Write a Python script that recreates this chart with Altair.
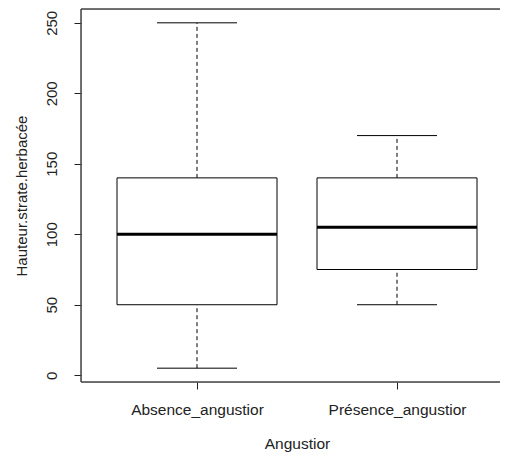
import altair as alt
import pandas as pd

groups = ["Absence_angustior", "Présence_angustior"]
positions = [1, 2]
lower_whisker = [5, 50]
q1 = [50, 75]
median = [100, 105]
q3 = [140, 140]
upper_whisker = [250, 170]

df = pd.DataFrame({
    "group": groups,
    "pos": positions,
    "lo": lower_whisker,
    "q1": q1,
    "med": median,
    "q3": q3,
    "hi": upper_whisker,
})

W = 419
H = 373
FONT = "Liberation Sans"

label_expr = " : ".join(
    [f"datum.value == {p} ? '{g}'" for p, g in zip(positions[:-1], groups[:-1])]
) + f" : '{groups[-1]}'"

xscale = alt.Scale(domain=[0.42, 0.42 + W / 200], nice=False, zero=False)
yscale = alt.Scale(domain=[-4.8, 259.8], nice=False, zero=False)

xaxis = alt.Axis(
    values=positions, labelExpr=label_expr, title="Angustior", domain=False,
    grid=False, tickSize=7, tickColor="#222", labelPadding=13,
    labelFont=FONT, labelFontSize=15.5, labelColor="#222",
    titleFont=FONT, titleFontSize=15.5, titleFontWeight="normal", titleColor="#222",
    titleY=61, titleBaseline="middle", titleX=216,
)
yaxis = alt.Axis(
    values=[0, 50, 100, 150, 200, 250], title="Hauteur.strate.herbacée", domain=False,
    grid=False, tickSize=7, tickColor="#222", labelAngle=270, labelAlign="center",
    labelBaseline="bottom", labelPadding=15,
    labelFont=FONT, labelFontSize=15, labelColor="#222",
    titleFont=FONT, titleFontSize=15, titleFontWeight="normal", titleColor="#222",
    titleAngle=270, titleX=-60, titleY=H / 2, titleBaseline="middle", titleAlign="center",
)

base = alt.Chart(df).transform_calculate(
    left="datum.pos - 0.4", right="datum.pos + 0.4",
    cl="datum.pos - 0.2", cr="datum.pos + 0.2",
)

box = base.mark_rect(fill="white", stroke="black", strokeWidth=1).encode(
    x=alt.X("left:Q", scale=xscale, axis=xaxis),
    x2="right:Q",
    y=alt.Y("q1:Q", scale=yscale, axis=yaxis),
    y2="q3:Q",
)
med = base.mark_rule(color="black", strokeWidth=3).encode(
    x=alt.X("left:Q", scale=xscale), x2="right:Q", y=alt.Y("med:Q", scale=yscale)
)
wlow = base.mark_rule(color="black", strokeWidth=1, strokeDash=[4, 3]).encode(
    x=alt.X("pos:Q", scale=xscale), y=alt.Y("lo:Q", scale=yscale), y2="q1:Q"
)
whigh = base.mark_rule(color="black", strokeWidth=1, strokeDash=[4, 3]).encode(
    x=alt.X("pos:Q", scale=xscale), y=alt.Y("q3:Q", scale=yscale), y2="hi:Q"
)
caplo = base.mark_rule(color="black", strokeWidth=1).encode(
    x=alt.X("cl:Q", scale=xscale), x2="cr:Q", y=alt.Y("lo:Q", scale=yscale)
)
caphi = base.mark_rule(color="black", strokeWidth=1).encode(
    x=alt.X("cl:Q", scale=xscale), x2="cr:Q", y=alt.Y("hi:Q", scale=yscale)
)

frame_top = alt.Chart(df).mark_rule(color="#444", strokeWidth=1).encode(
    x=alt.value(0), x2=alt.value(W), y=alt.value(0)
)
frame_bottom = alt.Chart(df).mark_rule(color="#444", strokeWidth=1).encode(
    x=alt.value(0), x2=alt.value(W), y=alt.value(H)
)
frame_left = alt.Chart(df).mark_rule(color="#444", strokeWidth=1).encode(
    x=alt.value(0), y=alt.value(0), y2=alt.value(H)
)

chart = alt.layer(
    frame_top, frame_bottom, frame_left, wlow, whigh, caplo, caphi, box, med
).properties(
    width=W, height=H,
    autosize=alt.AutoSizeParams(type="none"),
    padding={"left": 73, "top": 1, "right": 0, "bottom": 70},
).configure_view(stroke=None).configure(background="white")

chart.save("out.html", embed_options={"renderer": "svg", "actions": False})
